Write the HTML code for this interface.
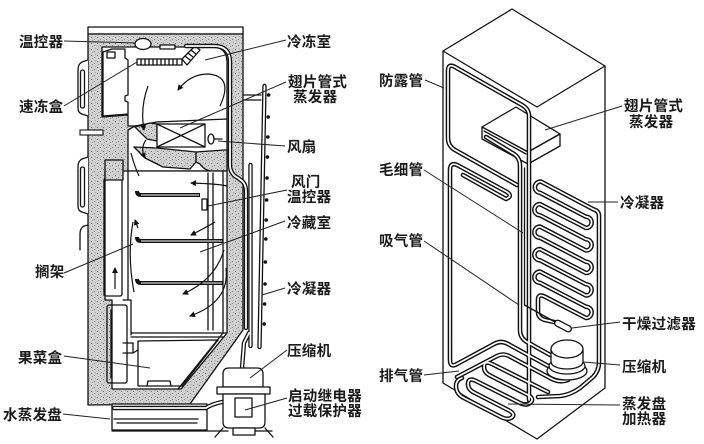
<!DOCTYPE html>
<html><head><meta charset="utf-8">
<style>
html,body{margin:0;padding:0;background:#fff;}
body{width:704px;height:444px;overflow:hidden;}
svg{display:block;}
text{font-family:"Liberation Sans","Noto Sans CJK SC","WenQuanYi Zen Hei",sans-serif;font-size:14.5px;fill:#1a1a1a;font-weight:bold;letter-spacing:0.3px;}
.k{fill:none;stroke:#111;stroke-width:1.3;stroke-linejoin:round;stroke-linecap:round;}
.w{fill:#fff;stroke:#111;stroke-width:1.3;stroke-linejoin:round;}
.g{fill:url(#st);stroke:#111;stroke-width:1.3;stroke-linejoin:round;}
.ld{fill:none;stroke:#222;stroke-width:1;}
.po{fill:none;stroke:#111;stroke-width:4.6;stroke-linecap:round;stroke-linejoin:round;}
.pi{fill:none;stroke:#fff;stroke-width:1.7;stroke-linecap:round;stroke-linejoin:round;}
.lo{fill:none;stroke:#111;stroke-width:4.4;stroke-linecap:round;stroke-linejoin:round;}
.li{fill:none;stroke:#fff;stroke-width:1.8;stroke-linecap:round;stroke-linejoin:round;}
.ar{fill:none;stroke:#111;stroke-width:1.2;}
</style></head>
<body>
<svg width="704" height="444" viewBox="0 0 704 444" xmlns="http://www.w3.org/2000/svg">
<defs>
<pattern id="st" width="6" height="6" patternUnits="userSpaceOnUse">
<rect width="6" height="6" fill="#d0d0d0"/>
<rect x="1" y="1" width="1" height="1" fill="#707070"/>
<rect x="4" y="3" width="1" height="1" fill="#858585"/>
<rect x="2" y="4" width="1" height="1" fill="#9a9a9a"/>
<rect x="5" y="0" width="1" height="1" fill="#a5a5a5"/>
</pattern>
<marker id="ah" markerWidth="6" markerHeight="6" refX="5" refY="3" orient="auto" markerUnits="userSpaceOnUse">
<path d="M0 0 L6 3 L0 6 Z" fill="#111"/>
</marker>
<!-- right diagram pipes -->
<path id="rA" d="M529 400 L529 116 Q529 109 522 105 L455 67 Q448 63 448 71 L448 138 Q448 146 455 150 L517 185"/>
<path id="rS" d="M486 137 L514 154 Q520 158 520 166 L520 330 Q520 338 527 342 L552 356"/>
<path id="rB" d="M463 175 L506 199 Q513 196 507 192 L459 166 Q450 161 450 170 L450 360 Q450 368 457 364 L494 344 Q501 340 508 344 L550 367"/>
<path id="rC" d="M457 377 L497 356 Q503 353 509 356 L552 379 Q560 383 568 380"/>
<path id="rD" d="M548 392 L492 364 Q484 360 484 367 Q484 373 491 376 L528 395 Q535 399 530 403 Q526 406 520 403 L476 381 Q468 377 468 384 Q468 390 475 393 L510 411 Q516 415 511 418 Q507 420 501 417 L464 398 Q456 394 456 386 Q456 380 462 378"/>
<path id="rE" d="M538 397 L560 396 Q570 395 580 388 L593 377 Q599 371 599 362 L599 216 Q599 211 594 209.6 L541 181.6 A5.6 5.6 0 0 0 540 192.8 L586 216.75 A5.6 5.6 0 0 1 586 228 L540 204.1 A5.6 5.6 0 0 0 540 215.3 L586 239.25 A5.6 5.6 0 0 1 586 250.5 L540 226.6 A5.6 5.6 0 0 0 540 237.8 L586 261.75 A5.6 5.6 0 0 1 586 273 L540 249.1 A5.6 5.6 0 0 0 540 260.3 L586 284.25 A5.6 5.6 0 0 1 586 295.5 L540 271.6 A5.6 5.6 0 0 0 540 282.8 L586 306.75 A5.6 5.6 0 0 1 586 318 L545 296.7 Q538 293 538 300 L538 312 Q538 318 545 320 L554 322"/>
<!-- left diagram pipes -->
<path id="lA" d="M186 46 L214 46 Q230 46 230 62 L230 165 Q230 174 238 178 L242 181 Q246 184 246 192 L246 328"/>
<path id="lC" d="M264.5 86 L259.5 347"/>
<path id="lD" d="M250.5 165 L250.5 346"/>
<path id="lE" d="M242 368 L244 343 L249 333"/>
<path id="lF" d="M222 402 Q212 404 206 408 L114 408"/>
</defs>

<!-- ============ LEFT DIAGRAM ============ -->
<!-- top bar -->
<rect x="88" y="27" width="155" height="7" class="w"/>
<!-- main insulated body -->
<path d="M88 34 L243 34 L243 330 L190 404 L88 405 Z" class="g"/>
<!-- door handles -->
<path d="M88 60 L82 62 Q78 64 78 70 L78 108 Q78 113 82 114 L88 116" class="w"/>
<rect x="80.5" y="70" width="4" height="38" rx="2" class="w"/>
<path d="M88 157 L82 159 Q78 161 78 167 L78 206 Q78 211 82 212 L88 214" class="w"/>
<rect x="80.5" y="167" width="4" height="40" rx="2" class="w"/>
<path d="M88 225 L84 226 Q80 228 80 234 L80 250" class="k"/>
<!-- door gap -->
<rect x="80" y="130" width="23" height="5" fill="#fff" stroke="#111" stroke-width="1.1"/>

<!-- freezer compartment -->
<path d="M102 47 L212 47 Q227 47 227 62 L227 119 L205 122 L157 122 L140 126 L128 126 L128 115 L102 117 Z" class="w"/>
<!-- freezer door pocket -->
<path d="M103 52 L112 49 L125 49 L125 58 L128 60 L128 95 L125 96 L125 101 L128 102 L128 114 L103 116 Z" class="k"/>
<rect x="107" y="52" width="8" height="6" class="k"/>
<!-- thermostat -->
<ellipse cx="143" cy="44" rx="8" ry="5.5" class="w"/>
<rect x="160" y="45" width="15" height="4" class="w"/>
<!-- fins -->
<rect x="137" y="59" width="45" height="6" class="w"/>
<path d="M141 59v6M145 59v6M149 59v6M153 59v6M157 59v6M161 59v6M165 59v6M169 59v6M173 59v6M177 59v6" class="k" stroke-width="1"/>
<path d="M182 59 L195 46 L200 50 L187 65 Z" class="w"/>
<path d="M185 56l5 4M188 53l5 4M191 50l5 4" class="k" stroke-width="1"/>

<!-- divider middle -->
<path d="M135 126 L157 122 L227 119 L227 171 L128 171 L128 130 Z" class="w"/>
<path d="M135 127 L150 123 L157 124 L157 141 L147 139 Z" class="g"/>
<rect x="157" y="124" width="48" height="23" class="w"/>
<path d="M157 124 L205 147 M205 124 L157 147" class="k" stroke-width="1"/>
<path d="M134 147 L157 148 L196 152 L196 162 L190 169 L163 167 L145 158 Z" class="g"/>
<path d="M196 152 L224 150 L227 150 L227 171 L212 171 Q205 171 200 164 L196 162 Z" class="g"/>
<ellipse cx="211" cy="139" rx="3" ry="5" class="w"/>
<path d="M214 139 L222 139" class="k"/>

<!-- fridge compartment -->
<path d="M105 171 L227 171 L227 333 L181 389 L112 389 L112 300 L105 300 Z" class="w"/>
<rect x="104" y="178" width="18" height="118" rx="2" class="k"/>
<rect x="105" y="160" width="18" height="20" class="g"/>
<path d="M128 171 L128 300 M123 300 L131 300 L131 335" class="k"/>
<rect x="107" y="305" width="20" height="78" rx="2" class="k"/>
<path d="M111 310 L111 378" class="k" stroke-width="0.9"/>
<path d="M123 343 L133 343 L133 353 L123 353" class="k"/>
<path d="M208 173 L208 330 M213 173 L213 330" class="k" stroke-width="1"/>
<path d="M223 171 L223 333 L178 389" class="k"/>
<rect x="202" y="199" width="5" height="11" class="w"/>
<!-- shelves -->
<path d="M137 191 Q137 195 141 195 L200 195" stroke="#111" stroke-width="4" fill="none"/>
<path d="M141 195 L199 195" stroke="#fff" stroke-width="1.1"/>
<path d="M137 237 Q137 241 141 241 L223 241" stroke="#111" stroke-width="4" fill="none"/>
<path d="M141 241 L222 241" stroke="#fff" stroke-width="1.1"/>
<path d="M137 279 Q137 283 141 283 L223 283" stroke="#111" stroke-width="4" fill="none"/>
<path d="M141 283 L222 283" stroke="#fff" stroke-width="1.1"/>
<!-- crisper -->
<path d="M131 333 L227 333 M131 337 L224 337" class="k"/>
<path d="M138 341 L218 340 L182 386 L138 386 Z" class="k"/>
<path d="M133 353 L138 350 M147 386 L148 381 L170 381 L171 386" class="k"/>
<!-- bottom gray again over liner edge -->
<!-- drip tray -->
<rect x="112" y="404" width="95" height="26" class="w"/>
<path d="M114 419 L198 419 M117 423 L197 423" class="k"/>
<path d="M112 431 L228 431 M250 431 L272 431" class="k"/>

<!-- arrows -->
<path d="M220 106 Q234 76 208 74 Q190 74 178 90" class="ar" marker-end="url(#ah)"/>
<path d="M148 86 Q140 108 144 130" class="ar" marker-end="url(#ah)"/>
<path d="M146 140 Q140 148 145 158" class="ar" marker-end="url(#ah)"/>
<path d="M131 153 Q134 165 139 176" class="ar"/>
<path d="M227 186 Q220 184 191 183" class="ar" marker-end="url(#ah)"/>
<path d="M215 222 Q205 228 191 235" class="ar" marker-end="url(#ah)"/>
<path d="M224 250 Q215 280 183 294" class="ar" marker-end="url(#ah)"/>
<path d="M226 268 Q230 302 190 316" class="ar" marker-end="url(#ah)"/>
<path d="M133 222 Q127 255 134 292" class="ar"/>
<path d="M115 289 L115 268" class="ar" marker-end="url(#ah)"/>
<path d="M138 228 L135 220" class="ar" marker-end="url(#ah)"/>

<!-- left tubes -->
<g class="lo"><use href="#lA"/><use href="#lC"/><use href="#lD"/><use href="#lE"/><use href="#lF"/></g>
<g class="li"><use href="#lA"/><use href="#lC"/><use href="#lD"/><use href="#lE"/><use href="#lF"/></g>
<!-- condenser nubs -->
<g fill="#111">
<circle cx="268.6" cy="95" r="1.8"/><circle cx="268.2" cy="117" r="1.8"/><circle cx="267.8" cy="137" r="1.8"/>
<circle cx="267.4" cy="157" r="1.8"/><circle cx="267" cy="178" r="1.8"/><circle cx="266.6" cy="200" r="1.8"/>
<circle cx="266.2" cy="220" r="1.8"/><circle cx="265.8" cy="239" r="1.8"/><circle cx="265.4" cy="262" r="1.8"/>
<circle cx="265" cy="284" r="1.8"/><circle cx="264.6" cy="304" r="1.8"/><circle cx="264.2" cy="324" r="1.8"/>
</g>
<path d="M243 95 L261 95 M243 100 L261 100" class="k"/>

<!-- compressor (left) -->
<path d="M223 387 L223 374 Q223 368 229 368 L257 368 Q263 368 263 374 L263 387 Z" class="w"/>
<rect x="217" y="387" width="53" height="7" class="w"/>
<path d="M223 394 L223 422 Q223 428 229 428 L259 428 Q265 428 265 422 L265 394 Z" class="w"/>
<rect x="235" y="398" width="17" height="19" class="w"/>
<rect x="233" y="428" width="22" height="7" class="w"/>
<path d="M215 437 L223 428 M265 428 L273 437" class="k"/>

<!-- ============ RIGHT DIAGRAM ============ -->
<path d="M443 51 L512 9 L605 66 L537 107 Z" class="w"/>
<path d="M443 51 L443 383 L537 439 L605 388 L605 66" class="k"/>
<!-- evaporator box -->
<path d="M482 127 L516 107 L560 134 L528 152 Z" class="w"/>
<path d="M482 127 L482 139 L528 164 L560 146 L560 134 L528 152 Z" class="w"/>
<path d="M528 152 L528 164" class="k"/>
<path d="M484 131 L526 154" class="k" stroke-width="0.8"/>

<g class="po"><use href="#rA"/><use href="#rS"/><use href="#rB"/><use href="#rC"/><use href="#rD"/><use href="#rE"/></g>
<g class="pi"><use href="#rA"/><use href="#rS"/><use href="#rB"/><use href="#rC"/><use href="#rD"/><use href="#rE"/></g>
<!-- capillary -->
<path d="M524.5 168 L524.5 305 L555 322" class="k" stroke-width="1.2"/>
<!-- dryer filter -->
<rect x="-9" y="-3" width="18" height="6" rx="3" transform="translate(563 326) rotate(27)" class="w"/>
<!-- compressor (right) -->
<ellipse cx="567" cy="371" rx="20" ry="9" class="w"/>
<ellipse cx="567" cy="366" rx="18" ry="8" class="w"/>
<path d="M551 349 L551 362 A16 7 0 0 0 583 362 L583 349" class="w"/>
<ellipse cx="567" cy="349" rx="16" ry="9" class="w"/>

<!-- ============ LEADERS ============ -->
<g class="ld">
<path d="M64 41 L135 43"/>
<path d="M64 106 L137 62"/>
<path d="M286 40 L205 60"/>
<path d="M286 82 L180 128"/>
<path d="M285 146 L218 141"/>
<path d="M287 190 L208 206"/>
<path d="M285 221 L200 252"/>
<path d="M64 273 L133 244"/>
<path d="M285 288 L262 295"/>
<path d="M64 356 L150 368"/>
<path d="M287 350 L250 378"/>
<path d="M287 398 L245 410"/>
<path d="M63 414 L110 419"/>
<path d="M425 80 L444 88"/>
<path d="M622 106 L545 130"/>
<path d="M424 170 L523 233"/>
<path d="M618 202 L588 202"/>
<path d="M424 241 L519 305"/>
<path d="M620 322 L572 328"/>
<path d="M620 365 L583 362"/>
<path d="M424 375 L459 371"/>
<path d="M620 405 L508 404"/>
</g>

<!-- ============ LABELS ============ -->
<text x="19" y="47">温控器</text>
<text x="19" y="112">速冻盒</text>
<text x="287" y="47">冷冻室</text>
<text x="288" y="87">翅片管式</text>
<text x="293" y="102">蒸发器</text>
<text x="287" y="152">风扇</text>
<text x="291" y="187">风门</text>
<text x="287" y="202">温控器</text>
<text x="287" y="228">冷藏室</text>
<text x="35" y="277">搁架</text>
<text x="287" y="294">冷凝器</text>
<text x="18" y="363">果菜盒</text>
<text x="287" y="356">压缩机</text>
<text x="288" y="401">启动继电器</text>
<text x="288" y="416">过载保护器</text>
<text x="3" y="420">水蒸发盘</text>

<text x="379" y="86">防露管</text>
<text x="624" y="111">翅片管式</text>
<text x="629" y="127">蒸发器</text>
<text x="379" y="175">毛细管</text>
<text x="620" y="208">冷凝器</text>
<text x="379" y="246">吸气管</text>
<text x="622" y="329">干燥过滤器</text>
<text x="622" y="372">压缩机</text>
<text x="379" y="381">排气管</text>
<text x="622" y="409">蒸发盘</text>
<text x="622" y="424">加热器</text>
</svg>
</body></html>
